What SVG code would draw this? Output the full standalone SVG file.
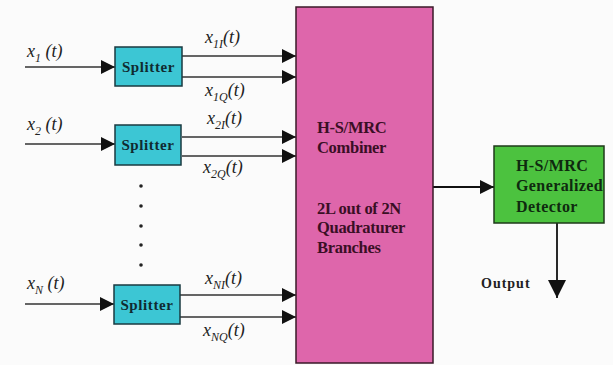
<svg xmlns="http://www.w3.org/2000/svg" width="613" height="365" viewBox="0 0 613 365">
<defs>
<marker id="ahb" viewBox="0 0 10 10" refX="10" refY="5" markerWidth="18" markerHeight="14" markerUnits="userSpaceOnUse" orient="auto">
<path d="M0,0 L10,5 L0,10 z" fill="#111"/>
</marker>
<marker id="ahd" viewBox="0 0 10 10" refX="10" refY="5" markerWidth="24" markerHeight="18" markerUnits="userSpaceOnUse" orient="auto">
<path d="M0,0 L10,5 L0,10 z" fill="#111"/>
</marker>
</defs>
<style>
.bg{fill:#fbfbfb}
.split{fill:#3cc6d4;stroke:#1a3a40;stroke-width:1.5}
.comb{fill:#de66ab;stroke:#3a1a28;stroke-width:1.5}
.det{fill:#4cc23f;stroke:#1e3a1a;stroke-width:1.5}
.ln{stroke:#333;stroke-width:1.3;fill:none}
.lnb{stroke:#111;stroke-width:1.8;fill:none}
.st{font-family:"Liberation Serif",serif;font-weight:bold;font-size:15px;letter-spacing:0.6px;fill:#102a30}
.bt{font-family:"Liberation Serif",serif;font-weight:bold;font-size:16.5px;letter-spacing:-0.3px;fill:#3a0f25}
.gt{font-family:"Liberation Serif",serif;font-weight:bold;font-size:16px;letter-spacing:0.4px;fill:#0f2a0f}
.lb{font-family:"Liberation Serif",serif;font-style:italic;font-size:18px;fill:#222}
.sb{font-size:12px}
.ot{font-family:"Liberation Serif",serif;font-weight:bold;font-size:14px;letter-spacing:1px;fill:#222}
</style>
<rect class="bg" x="0" y="0" width="613" height="365"/>
<g id="connectors">
<line class="ln" x1="25" y1="67" x2="115" y2="67" marker-end="url(#ahb)"/>
<line class="ln" x1="182" y1="56" x2="296" y2="56" marker-end="url(#ahb)"/>
<line class="ln" x1="182" y1="77" x2="296" y2="77" marker-end="url(#ahb)"/>
<line class="ln" x1="25" y1="144" x2="115" y2="144" marker-end="url(#ahb)"/>
<line class="ln" x1="182" y1="137" x2="296" y2="137" marker-end="url(#ahb)"/>
<line class="ln" x1="182" y1="156" x2="296" y2="156" marker-end="url(#ahb)"/>
<line class="ln" x1="25" y1="304" x2="114" y2="304" marker-end="url(#ahb)"/>
<line class="ln" x1="180" y1="295" x2="296" y2="295" marker-end="url(#ahb)"/>
<line class="ln" x1="180" y1="317" x2="296" y2="317" marker-end="url(#ahb)"/>
<line class="lnb" x1="433" y1="187" x2="494" y2="187" marker-end="url(#ahb)"/>
<line class="lnb" x1="557" y1="223" x2="557" y2="298" marker-end="url(#ahd)"/>
</g>
<g id="dots" fill="#222">
<circle cx="141" cy="186" r="1.8"/>
<circle cx="141" cy="206" r="1.8"/>
<circle cx="141" cy="226" r="1.8"/>
<circle cx="141" cy="245" r="1.8"/>
<circle cx="141" cy="265" r="1.8"/>
</g>
<g id="splitter1">
<rect class="split" x="115" y="47" width="67" height="39"/>
<text class="st" x="148.5" y="72" text-anchor="middle">Splitter</text>
</g>
<g id="splitter2">
<rect class="split" x="115" y="125" width="66" height="40"/>
<text class="st" x="148" y="150" text-anchor="middle">Splitter</text>
</g>
<g id="splitterN">
<rect class="split" x="114" y="285" width="66" height="39"/>
<text class="st" x="147" y="310" text-anchor="middle">Splitter</text>
</g>
<g id="combiner">
<rect class="comb" x="296" y="7" width="137" height="356"/>
<text class="bt" x="317" y="133">H-S/MRC</text>
<text class="bt" x="317" y="153">Combiner</text>
<text class="bt" x="317" y="214">2L out of 2N</text>
<text class="bt" x="317" y="233">Quadraturer</text>
<text class="bt" x="317" y="253">Branches</text>
</g>
<g id="detector">
<rect class="det" x="494" y="146" width="110" height="77"/>
<text class="gt" x="516" y="171">H-S/MRC</text>
<text class="gt" x="516" y="191">Generalized</text>
<text class="gt" x="516" y="212">Detector</text>
</g>
<g id="labels">
<text class="lb" x="27" y="57">x<tspan class="sb" dy="5">1</tspan><tspan dy="-5"> (t)</tspan></text>
<text class="lb" x="205" y="43">x<tspan class="sb" dy="5">1I</tspan><tspan dy="-5">(t)</tspan></text>
<text class="lb" x="205" y="96">x<tspan class="sb" dy="5">1Q</tspan><tspan dy="-5">(t)</tspan></text>
<text class="lb" x="27" y="130">x<tspan class="sb" dy="5">2</tspan><tspan dy="-5"> (t)</tspan></text>
<text class="lb" x="207" y="124">x<tspan class="sb" dy="5">2I</tspan><tspan dy="-5">(t)</tspan></text>
<text class="lb" x="203" y="173">x<tspan class="sb" dy="5">2Q</tspan><tspan dy="-5">(t)</tspan></text>
<text class="lb" x="27" y="289">x<tspan class="sb" dy="5">N</tspan><tspan dy="-5"> (t)</tspan></text>
<text class="lb" x="205" y="284">x<tspan class="sb" dy="5">NI</tspan><tspan dy="-5">(t)</tspan></text>
<text class="lb" x="203" y="336">x<tspan class="sb" dy="5">NQ</tspan><tspan dy="-5">(t)</tspan></text>
<text class="ot" x="481" y="288">Output</text>
</g>
</svg>
